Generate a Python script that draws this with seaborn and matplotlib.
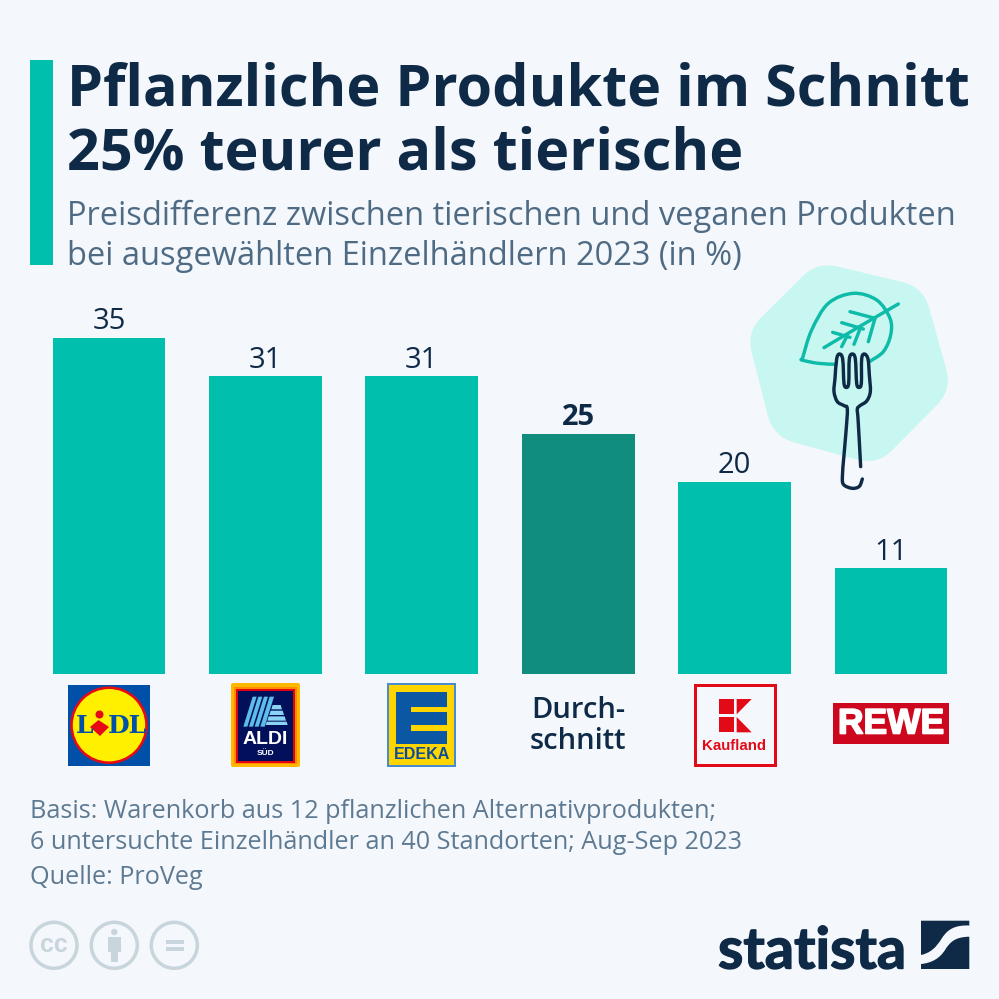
import matplotlib
matplotlib.use("Agg")
import matplotlib.pyplot as plt
import matplotlib.patheffects as pe
import seaborn as sns
from matplotlib.patches import Rectangle, Circle, Polygon, PathPatch, FancyBboxPatch
from matplotlib.path import Path

# ---------- data ----------
retailers = ["Lidl", "Aldi Süd", "Edeka", "Durchschnitt", "Kaufland", "Rewe"]
values = [35, 31, 31, 25, 20, 11]
bar_colors = ["#00BFAC", "#00BFAC", "#00BFAC", "#118D7E", "#00BFAC", "#00BFAC"]
title_lines = ["Pflanzliche Produkte im Schnitt", "25% teurer als tierische"]
subtitle_lines = ["Preisdifferenz zwischen tierischen und veganen Produkten",
                  "bei ausgewählten Einzelhändlern 2023 (in %)"]
note_lines = ["Basis: Warenkorb aus 12 pflanzlichen Alternativprodukten;",
              "6 untersuchte Einzelhändler an 40 Standorten; Aug-Sep 2023",
              "Quelle: ProVeg"]

BG = "#F4F7FB"
NAVY = "#0F2A47"
TEAL = "#00BFAC"
SUB = "#4F6B84"
NOTE = "#5E7A92"
ICON = "#C8D5DD"

sns.set_theme(style="white")
plt.rcParams["font.family"] = ["Open Sans", "DejaVu Sans"]

S = 999
fig = plt.figure(figsize=(S / 100, S / 100), dpi=100, facecolor=BG)


def pt(px):
    return px * 0.72


# ---------- bars ----------
L, R, TOP, BOT = 30.8, 969.2, 290, 674
ax = fig.add_axes([L / S, 1 - BOT / S, (R - L) / S, (BOT - TOP) / S])
ax.set_facecolor("none")
sns.barplot(x=retailers, y=values, hue=retailers, palette=bar_colors, legend=False,
            width=0.7225, saturation=1, linewidth=0, ax=ax, order=retailers, hue_order=retailers)
ax.set_xlim(-0.5, 5.5)
ax.set_ylim(0, 40)
ax.axis("off")
for cont, name, val in zip(ax.containers, retailers, values):
    ax.bar_label(cont, labels=[str(val)], padding=1.2, fontsize=21, color=NAVY,
                 fontweight="bold" if name == "Durchschnitt" else "normal")

# ---------- overlay in pixel space ----------
ov = fig.add_axes([0, 0, 1, 1], zorder=5)
ov.set_xlim(0, S)
ov.set_ylim(S, 0)
ov.axis("off")
ov.patch.set_alpha(0)


def rect(x0, y0, x1, y1, c, **k):
    ov.add_patch(Rectangle((x0, y0), x1 - x0, y1 - y0, facecolor=c, edgecolor="none", **k))


def rrect(x0, y0, x1, y1, r, c):
    ov.add_patch(FancyBboxPatch((x0 + r, y0 + r), x1 - x0 - 2 * r, y1 - y0 - 2 * r,
                                boxstyle=f"round,pad={r},rounding_size={r}",
                                facecolor=c, edgecolor="none"))


def poly(pts, c):
    ov.add_patch(Polygon(pts, closed=True, facecolor=c, edgecolor="none"))


def zm(pts, ox, oy):
    return [(ox + x / 3, oy + y / 3) for x, y in pts]


def curve(pts, color, w, z=6):
    """Smooth open stroke through pts, using Catmull-Rom segments."""
    verts = [pts[0]]
    codes = [Path.MOVETO]
    for i in range(len(pts) - 1):
        p0 = pts[max(i - 1, 0)]
        p1 = pts[i]
        p2 = pts[i + 1]
        p3 = pts[min(i + 2, len(pts) - 1)]
        c1 = (p1[0] + (p2[0] - p0[0]) / 6, p1[1] + (p2[1] - p0[1]) / 6)
        c2 = (p2[0] - (p3[0] - p1[0]) / 6, p2[1] - (p3[1] - p1[1]) / 6)
        verts += [c1, c2, p2]
        codes += [Path.CURVE4] * 3
    ov.add_patch(PathPatch(Path(verts, codes), facecolor="none", edgecolor=color,
                           lw=pt(w), capstyle="round", joinstyle="round", zorder=z))


# header
rect(30, 60, 53, 265, TEAL)
for txt, y in zip(title_lines, [105, 170]):
    ov.text(67, y, txt, fontsize=41.4, fontweight="bold", color=NAVY, va="baseline", ha="left")
for txt, y in zip(subtitle_lines, [225, 265]):
    ov.text(67, y, txt, fontsize=23.5, color=SUB, va="baseline", ha="left")

# notes
for txt, y in zip(note_lines, [818, 849, 884]):
    ov.text(30.5, y, txt, fontsize=18.15, color=NOTE, va="baseline", ha="left")

# rounded blob behind the fork
corners = zm([(232, 20), (550, 96), (636, 404), (412, 631), (100, 545), (19, 232)], 740, 255)
verts, codes = [], []
n = len(corners)
for i in range(n):
    p, c, q = corners[i - 1], corners[i], corners[(i + 1) % n]
    t = 0.2
    a = (c[0] + (p[0] - c[0]) * t, c[1] + (p[1] - c[1]) * t)
    b = (c[0] + (q[0] - c[0]) * t, c[1] + (q[1] - c[1]) * t)
    verts += [a, c, b]
    codes += [Path.MOVETO if i == 0 else Path.LINETO, Path.CURVE3, Path.CURVE3]
verts.append(verts[0])
codes.append(Path.CLOSEPOLY)
ov.add_patch(PathPatch(Path(verts, codes), facecolor="#C8F7F2", edgecolor="none", zorder=1))

# leaf
LEAF = "#0DBBA8"
leaf_out = zm([(288, 328), (235, 325), (187, 315), (189, 305), (215, 225), (265, 145), (340, 115),
               (410, 135), (450, 190), (452, 240), (430, 290), (388, 320)], 740, 255)
curve(leaf_out, LEAF, 3.4)
curve(zm([(252, 278), (363, 212), (475, 147)], 740, 255), LEAF, 3.4)
for seg in [[(330, 170), (405, 190)], [(305, 203), (370, 222)], [(278, 232), (330, 247)],
            [(405, 190), (385, 260)], [(360, 222), (342, 268)], [(320, 245), (305, 275)]]:
    curve(zm(seg, 740, 255), LEAF, 3.4)

# fork
fork = [(362, 635), (358, 560), (354, 490), (352, 462), (360, 452), (380, 438), (391, 410), (388, 360),
        (384, 312), (373, 297), (365, 312), (364, 385), (357, 397), (350, 385), (346, 312), (337, 297),
        (328, 312), (326, 385), (319, 397), (312, 385), (308, 312), (298, 297), (290, 312), (285, 370),
        (282, 410), (292, 440), (312, 452), (322, 462), (318, 530), (312, 600), (307, 668),
        (312, 690), (337, 700), (358, 694), (367, 672)]
curve(zm(fork, 740, 255), NAVY, 3.4)

# Lidl
rect(68, 684.5, 150, 766, "#0050AA")
ov.add_patch(Circle((109, 725.2), 37.5, facecolor="#FFF000", edgecolor="#E60A14", lw=pt(2.6)))
ov.text(85, 726, "L", fontsize=18, fontweight="bold", family="DejaVu Serif", color="#0050AA",
        ha="center", va="center")
ov.text(127, 726, "DL", fontsize=18, fontweight="bold", family="DejaVu Serif", color="#0050AA",
        ha="center", va="center")
ov.add_patch(Circle((99.5, 714.5), 4, facecolor="#E60A14", edgecolor="none"))
poly([(98.5, 720), (109, 727), (100, 736), (90, 727)], "#E60A14")

# Aldi
rrect(231, 683, 300, 767, 2, "#FFB800")
rect(234, 686.5, 297, 764, "#FF8A00")
rect(236, 689, 295, 762.5, "#E3000F")
rect(237.8, 690.7, 292.7, 761, "#00105A")
for x0, x1 in [(0, 12), (17, 29), (34, 46), (51, 64)]:
    poly(zm([(608 + x0, 65), (608 + x1, 65), (580 + x1, 155), (580 + x0, 155)], 50, 675), "#5CBDEB")
for y0, y1, xl0, xr0, xl1, xr1 in [(90, 103, 668, 692, 664, 696), (107, 120, 662, 698, 658, 702),
                                  (124, 137, 656, 704, 652, 708), (140, 150, 650, 710, 647, 713)]:
    poly(zm([(xl0, y0), (xr0, y0), (xr1, y1), (xl1, y1)], 50, 675), "#8AD3F2")
ov.text(265.3, 744.5, "ALDI", fontsize=14, fontweight="bold", color="white", ha="center",
        va="baseline", family="Liberation Sans")
ov.text(265.3, 755, "SÜD", fontsize=6, fontweight="bold", color="white", ha="center",
        va="baseline", family="Liberation Sans")

# Edeka
rect(387.3, 683.3, 456, 766.7, "#4A8CCB")
rect(389, 685, 454.3, 765, "#FFD500")
rect(395.7, 692.3, 447.3, 744.3, "#0B57A4")
rect(411.3, 706.7, 447.3, 711.7, "#FFD500")
rect(411.3, 725, 447.3, 731, "#FFD500")
ov.text(421.6, 754.5, "EDEKA", fontsize=11.5, fontweight="bold", color="#0B4C9A", ha="center",
        va="center", family="Liberation Sans")

# average label
ov.text(578, 718, "Durch-", fontsize=21, fontweight="semibold", color=NAVY, ha="center", va="baseline")
ov.text(578, 749, "schnitt", fontsize=21, fontweight="semibold", color=NAVY, ha="center", va="baseline")

# Kaufland
ov.add_patch(Rectangle((694.8, 685), 79.8, 80.2, facecolor="none", edgecolor="#E30A17", lw=pt(3)))
KR = "#E30A17"
rect(718.7, 699, 734, 714.3, KR)
rect(718.7, 717, 734, 732.3, KR)
poly(zm([(710, 72), (755, 72), (710, 118)], 500, 675), KR)
poly(zm([(710, 126), (755, 172), (710, 172)], 500, 675), KR)
ov.text(734.3, 746.5, "Kaufland", fontsize=10.8, fontweight="bold", color=KR, ha="center",
        va="center", family="Liberation Sans")

# Rewe
rect(832.7, 703.3, 949, 744, "#CC071E")
ov.text(891, 724, "REWE", fontsize=25.5, fontweight="bold", color="white", ha="center",
        va="center", family="Liberation Sans",
        path_effects=[pe.withStroke(linewidth=1.2, foreground="white")])

# licence icons
for cx in (54, 114.3, 174.3):
    ov.add_patch(Circle((cx, 945.3), 23, facecolor="none", edgecolor=ICON, lw=pt(3.5)))
ov.text(54, 945, "cc", fontsize=18, fontweight="bold", color=ICON, ha="center", va="center",
        family="Liberation Sans")
ov.add_patch(Circle((114.3, 932), 3.2, facecolor=ICON, edgecolor="none"))
rect(107.7, 936.7, 121, 951.7, ICON)
rect(110.7, 950, 117.7, 961.7, ICON)
rect(165.7, 940, 184, 944.3, ICON)
rect(165.7, 946.8, 184, 951.3, ICON)

# statista wordmark
ov.text(906, 968.5, "statista", fontsize=41.5, fontweight="bold", color=NAVY, ha="right",
        va="baseline", family="Lato",
        path_effects=[pe.withStroke(linewidth=1.0, foreground=NAVY)])
top_v = [(921, 920.7), (969.3, 920.7), (969.3, 925.5), (955, 925), (948, 929), (942, 938),
         (936, 948), (930, 953), (921, 955), (921, 920.7)]
top_c = [Path.MOVETO, Path.LINETO, Path.LINETO, Path.CURVE4, Path.CURVE4, Path.CURVE4,
         Path.CURVE4, Path.CURVE4, Path.CURVE4, Path.CLOSEPOLY]
ov.add_patch(PathPatch(Path(top_v, top_c), facecolor=NAVY, edgecolor="none"))
low_v = [(969.3, 936.7), (955, 937), (950, 942), (945, 950), (940, 958), (932, 963), (921, 964),
         (921, 969), (969.3, 969), (969.3, 936.7)]
low_c = [Path.MOVETO, Path.CURVE4, Path.CURVE4, Path.CURVE4, Path.CURVE4, Path.CURVE4, Path.CURVE4,
         Path.LINETO, Path.LINETO, Path.CLOSEPOLY]
ov.add_patch(PathPatch(Path(low_v, low_c), facecolor=NAVY, edgecolor="none"))

fig.savefig("out.png", dpi=100, facecolor=BG)
